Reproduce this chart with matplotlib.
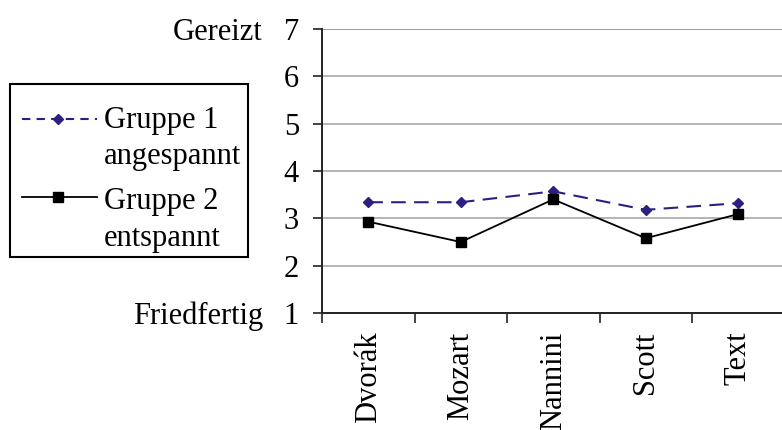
import matplotlib
matplotlib.use("Agg")
import matplotlib.pyplot as plt
from matplotlib.lines import Line2D
from matplotlib.patches import Rectangle
from matplotlib.transforms import blended_transform_factory
from matplotlib.ticker import FixedLocator

# Data
komponisten = ["Dvorák", "Mozart", "Nannini", "Scott", "Text"]
gruppe1 = [3.34, 3.34, 3.57, 3.18, 3.32]   # Gruppe 1 angespannt
gruppe2 = [2.93, 2.50, 3.40, 2.58, 3.09]   # Gruppe 2 entspannt
y_ticks = [1, 2, 3, 4, 5, 6, 7]
skala_oben = "Gereizt"
skala_unten = "Friedfertig"
legende1 = ["Gruppe 1", "angespannt"]
legende2 = ["Gruppe 2", "entspannt"]

plt.rcParams["font.family"] = ["Liberation Serif", "DejaVu Serif"]
FS = 22
BLUE = "#2b2080"

W, H = 782, 430
fig = plt.figure(figsize=(W / 100, H / 100), dpi=100)


def fx(px):
    return px / W


def fy(py):
    return 1 - py / H


ax_left, ax_right, ax_top, ax_bottom = 322, 784.5, 29, 313
ax = fig.add_axes([fx(ax_left), fy(ax_bottom), fx(ax_right - ax_left),
                   (ax_bottom - ax_top) / H])

x = list(range(len(komponisten)))
ax.plot(x, gruppe1, color=BLUE, lw=1.5, dashes=(7, 4), marker="D",
        markersize=5.5, markerfacecolor=BLUE, markeredgecolor=BLUE, zorder=3)
ax.plot(x, gruppe2, color="black", lw=1.3, marker="s", markersize=6.5,
        markerfacecolor="black", markeredgecolor="black", zorder=4)

ax.set_xlim(-0.5, len(komponisten) - 0.5)
ax.set_ylim(1, 7)
ax.set_yticks(y_ticks)
ax.set_yticklabels([str(v) for v in y_ticks], fontsize=FS)
ax.set_xticks(x)
ax.set_xticklabels(komponisten, rotation=90, fontsize=FS, va="top", ha="center")
ax.xaxis.set_minor_locator(FixedLocator([i - 0.5 for i in range(len(komponisten) + 1)]))
ax.tick_params(axis="x", which="major", length=0, pad=13.5)
ax.tick_params(axis="x", which="minor", length=7, width=1.2, direction="out", color="#222222")
ax.tick_params(axis="y", length=6.5, width=1.2, direction="out", color="#222222", pad=10)

for y in y_ticks[1:]:
    ax.axhline(y, color="#b4b4b4" if y < 7 else "#9a9a9a", lw=1.4, zorder=1)

for s in ["top", "right"]:
    ax.spines[s].set_visible(False)
for s in ["left", "bottom"]:
    ax.spines[s].set_linewidth(1.4)
    ax.spines[s].set_color("#222222")

# Scale end labels
tr = blended_transform_factory(fig.transFigure, ax.transData)
ax.text(fx(263), 7, skala_oben, transform=tr, ha="right", va="center_baseline", fontsize=FS)
ax.text(fx(263), 1, skala_unten, transform=tr, ha="right", va="center_baseline", fontsize=FS)

# Legend box
fig.patches.append(Rectangle((fx(10), fy(257)), fx(238), (257 - 84) / H,
                             transform=fig.transFigure, fill=False,
                             edgecolor="black", lw=1.5))

fig.lines.append(Line2D([fx(22), fx(97)], [fy(119), fy(119)], transform=fig.transFigure,
                        color=BLUE, lw=1.5, dashes=(4, 3)))
fig.lines.append(Line2D([fx(58)], [fy(119)], transform=fig.transFigure, marker="D",
                        markersize=5.5, color=BLUE))
fig.text(fx(104), fy(117), legende1[0], ha="left", va="center_baseline", fontsize=FS)
fig.text(fx(104), fy(153), legende1[1], ha="left", va="center_baseline", fontsize=FS)

fig.lines.append(Line2D([fx(22), fx(97)], [fy(197), fy(197)], transform=fig.transFigure,
                        color="black", lw=1.3))
fig.lines.append(Line2D([fx(58)], [fy(197)], transform=fig.transFigure, marker="s",
                        markersize=6.5, color="black"))
fig.text(fx(104), fy(198), legende2[0], ha="left", va="center_baseline", fontsize=FS)
fig.text(fx(104), fy(235), legende2[1], ha="left", va="center_baseline", fontsize=FS)

fig.savefig("out.png", dpi=100)
